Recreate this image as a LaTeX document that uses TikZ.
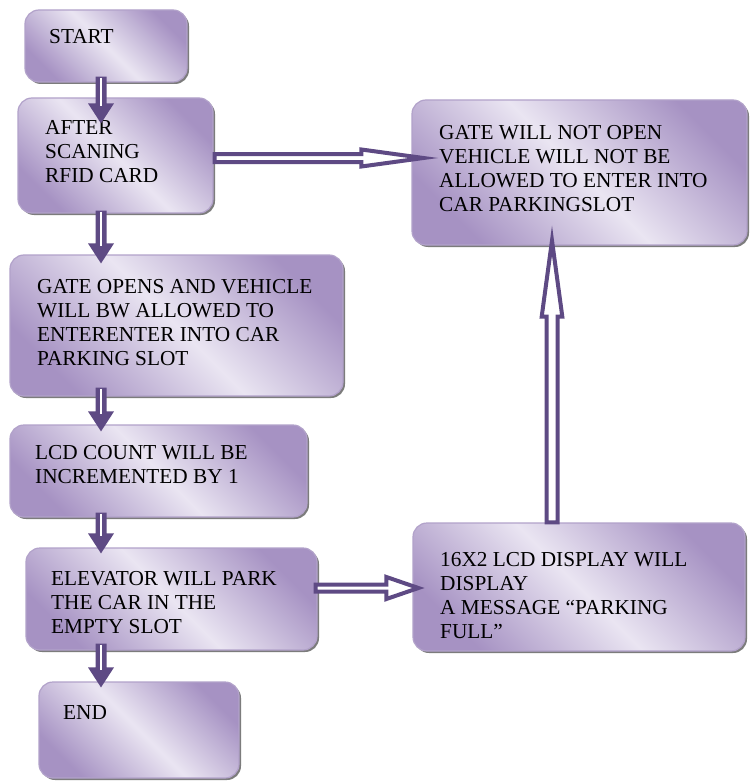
\documentclass[tikz,border=0pt]{standalone}
\usepackage{fontspec}
\setmainfont{Liberation Serif}
\usetikzlibrary{calc,shadows}
\definecolor{arrowc}{HTML}{5E4A84}
\definecolor{boxdark}{HTML}{A692C3}
\definecolor{boxlight}{HTML}{EAE5F2}
\definecolor{boxedge}{HTML}{B2A2CA}
\tikzset{
 fbox/.style={rounded corners=14pt, draw=boxedge, line width=1.2pt,
   left color=boxdark, right color=boxdark, middle color=boxlight, shading angle=135,
   drop shadow={shadow xshift=2pt, shadow yshift=-2pt, fill=black!60, opacity=0.85},
   inner sep=0pt},
 ftext/.style={anchor=north west, align=left, inner sep=0pt, font=\fontsize{21.3}{24.2}\selectfont},
 hollow/.style={draw=arrowc, line width=4pt, fill=white, line join=miter, miter limit=12},
}
\newcommand{\DownSolid}[2]{%
 \fill[arrowc] let \p1=(#1), \p2=(#2) in (\x1-5.5pt,\y1) -- (\x1-5.5pt,\y2+20pt) -- (\x1-13pt,\y2+20pt) -- (\x1,\y2) -- (\x1+13pt,\y2+20pt) -- (\x1+5.5pt,\y2+20pt) -- (\x1+5.5pt,\y1) -- cycle;
 \draw[white, line width=2.7pt] let \p1=(#1), \p2=(#2) in (\x1,\y1-1pt) -- (\x1,\y2+17pt);}
\newcommand{\RightHollow}[5]{%
 \draw[hollow] let \p1=(#1), \p2=(#2) in (\x1,\y1+#3) -- (\x2-#5,\y1+#3) -- (\x2-#5,\y1+#4) -- (\x2,\y1) -- (\x2-#5,\y1-#4) -- (\x2-#5,\y1-#3) -- (\x1,\y1-#3) -- cycle;}
\newcommand{\UpHollow}[5]{%
 \draw[hollow] let \p1=(#1), \p2=(#2) in (\x1-#3,\y1) -- (\x1-#3,\y2-#5) -- (\x1-#4,\y2-#5) -- (\x1,\y2) -- (\x1+#4,\y2-#5) -- (\x1+#3,\y2-#5) -- (\x1+#3,\y1) -- cycle;}
\begin{document}
\begin{tikzpicture}[x=1pt,y=-1pt]
\useasboundingbox[fill=white] (0,0) rectangle (752,781);
% boxes
\node[fbox, minimum width=162pt, minimum height=72pt] (start) at (106,46) {};
\node[fbox, minimum width=195pt, minimum height=115pt] (after) at (115.5,155.5) {};
\node[fbox, minimum width=335pt, minimum height=145pt] (notopen) at (579.5,172.5) {};
\node[fbox, minimum width=333pt, minimum height=141pt] (opens) at (176.5,325.5) {};
\node[fbox, minimum width=297pt, minimum height=92pt] (lcd) at (158.5,471) {};
\node[fbox, minimum width=291pt, minimum height=102pt] (elev) at (171.5,599) {};
\node[fbox, minimum width=332pt, minimum height=128pt] (full) at (579,587) {};
\node[fbox, minimum width=200pt, minimum height=96pt] (end) at (139,730) {};
% texts
\node[ftext] (starttext) at (49,29) {START};
\node[ftext] (aftertext) at (45,120) {AFTER\\SCANING\\RFID CARD};
\node[ftext] (notopentext) at (439,125) {GATE WILL NOT OPEN\\VEHICLE WILL NOT BE\\ALLOWED TO ENTER INTO\\CAR PARKINGSLOT};
\node[ftext] (openstext) at (37,279) {GATE OPENS AND VEHICLE\\WILL BW ALLOWED TO\\ENTERENTER INTO CAR\\PARKING SLOT};
\node[ftext] (lcdtext) at (35,445) {LCD COUNT WILL BE\\INCREMENTED BY 1};
\node[ftext] (elevtext) at (51,571) {ELEVATOR WILL PARK\\THE CAR IN THE\\EMPTY SLOT};
\node[ftext] (fulltext) at (440,552) {16X2 LCD DISPLAY WILL\\DISPLAY\\A MESSAGE “PARKING\\FULL”};
\node[ftext] (endtext) at (63,705) {END};
% arrow end points
\coordinate (d1a) at ($(start.south)+(-5,-6)$);
\coordinate (d1b) at ($(after.north)+(-14.5,26)$);
\coordinate (d2a) at ($(after.south)+(-14.5,-3)$);
\coordinate (d2b) at ($(opens.north)+(-75.5,9)$);
\coordinate (d3a) at ($(opens.south)+(-75.5,-9)$);
\coordinate (d3b) at ($(lcd.north)+(-57.5,7)$);
\coordinate (d4a) at ($(lcd.south)+(-57.5,-5)$);
\coordinate (d4b) at ($(elev.north)+(-70.5,6)$);
\coordinate (d5a) at ($(elev.south)+(-70.5,-7)$);
\coordinate (d5b) at ($(end.north)+(-38,6)$);
\coordinate (h1a) at ($(after.east)+(1,2.5)$);
\coordinate (h1b) at ($(notopen.west)+(12,-14.5)$);
\coordinate (h2a) at ($(elev.east)+(-2,-11)$);
\coordinate (h2b) at ($(full.west)+(6,1)$);
\coordinate (u1a) at ($(full.north)+(-27,0)$);
\coordinate (u1b) at ($(notopen.south)+(-27.5,-5)$);
% arrows
\DownSolid{d1a}{d1b}
\DownSolid{d2a}{d2b}
\DownSolid{d3a}{d3b}
\DownSolid{d4a}{d4b}
\DownSolid{d5a}{d5b}
\RightHollow{h1a}{h1b}{4pt}{8.5pt}{62pt}
\RightHollow{h2a}{h2b}{3.5pt}{11pt}{32pt}
\UpHollow{u1a}{u1b}{5.5pt}{10.3pt}{76pt}
\end{tikzpicture}
\end{document}
